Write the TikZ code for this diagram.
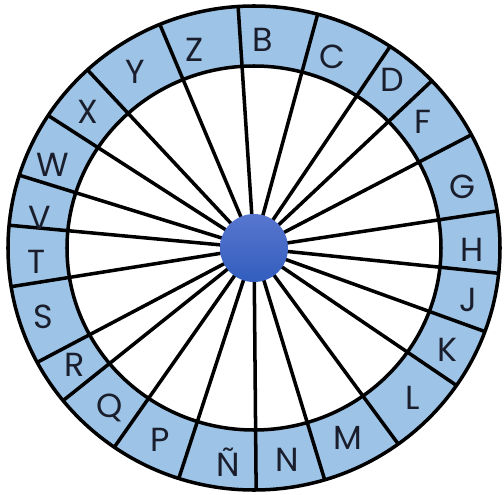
\documentclass[tikz,border=0pt]{standalone}
\usepackage{fontspec}
\setmainfont{Poppins}

\definecolor{ringblue}{RGB}{157,195,230}
\definecolor{hubtop}{RGB}{88,118,206}
\definecolor{hubbot}{RGB}{50,94,190}
\definecolor{letterink}{RGB}{26,30,44}

\begin{document}
\begin{tikzpicture}[
    x=0.02cm, y=0.02cm,
    every node/.style={font=\fontsize{19}{19}\selectfont, text=letterink},
    spoke/.style={line width=2pt, black},
    rim/.style={line width=2pt, black}
]

% Parameters
\def\outerA{246}
\def\outerB{242}
\def\innerA{187}
\def\innerB{182}

\useasboundingbox (-254,-246) rectangle (250,248);

\coordinate (ctr) at (0,0);

% === Blue ring ===
\fill[ringblue, even odd rule]
    (ctr) ellipse [x radius=\outerA, y radius=\outerB]
    (ctr) ellipse [x radius=\innerA, y radius=\innerB];

% === Spokes (one per sector border) ===
\foreach \a in {93.7, 75, 56.4, 43.7, 27.9, 8.8, -6, -20.2, -34.6, -54.1, -73.3,
                -89.5, -107.8, -124.6, -140.9, -151.8, -170.8, 174.6, 162.5, 146.8, 132.6, 112.5} {
    \draw[spoke] (ctr) -- (\a:{\outerA} and {\outerB});
}

% === Rims ===
\draw[rim] (ctr) ellipse [x radius=\outerA, y radius=\outerB];
\draw[rim] (ctr) ellipse [x radius=\innerA, y radius=\innerB];

% === Letters ===
\foreach \key/\txt/\px/\py in {
    B/B/9/208, C/C/78/191, D/D/138/168, F/F/169/126, G/G/208/61,
    H/H/218/-2, J/J/214/-52, K/K/193/-102, L/L/159/-150, M/M/94/-190,
    N/N/33/-212, Nt/Ñ/-26/-214, P/P/-94/-192, Q/Q/-144/-160, R/R/-179/-117,
    S/S/-211/-69, T/T/-217/-14, V/V/-214/30, W/W/-201/83, X/X/-166/136,
    Y/Y/-119/176, Z/Z/-59/198} {
    \node (l\key) at (\px,\py) {\txt};
}

% === Hub ===
\node[circle, inner sep=0pt, minimum size=1.36cm, top color=hubtop, bottom color=hubbot]
    (hub) at (ctr) {};

\end{tikzpicture}
\end{document}
